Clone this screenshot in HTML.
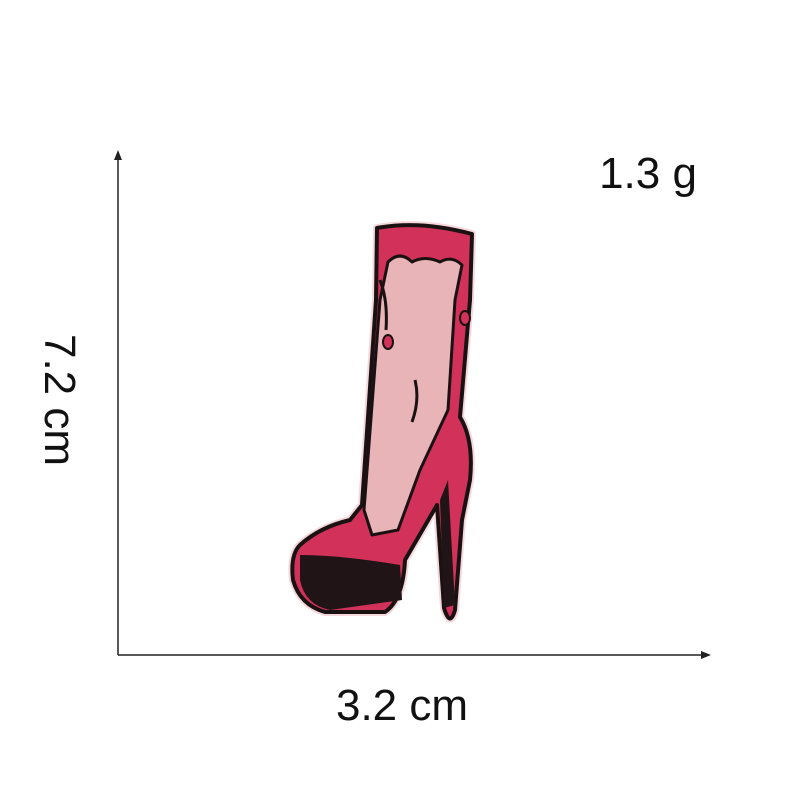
<!DOCTYPE html>
<html><head><meta charset="utf-8"><style>
html,body{margin:0;padding:0;background:#fff;width:800px;height:800px;overflow:hidden}
text{font-family:"Liberation Sans","DejaVu Sans",sans-serif;fill:#111}
</style></head><body>
<svg width="800" height="800" viewBox="0 0 800 800">
<g>
<line x1="118" y1="158" x2="118" y2="655" stroke="#222" stroke-width="1.5"/>
<polygon points="118,150 114,160 122,160" fill="#222"/>
</g>
<g>
<line x1="118" y1="655" x2="703" y2="655" stroke="#222" stroke-width="1.5"/>
<polygon points="711,655 701,651 701,659" fill="#222"/>
</g>
<text x="648" y="188" font-size="44" text-anchor="middle">1.3 g</text>
<text x="402" y="720" font-size="44" text-anchor="middle">3.2 cm</text>
<text x="0" y="0" font-size="44" text-anchor="middle" transform="translate(45,400) rotate(90)">7.2 cm</text>
<g stroke-linejoin="round">
<path d="M377,228 Q420,220 472,234 L470,300 L460,417 Q474,440 470,480 L462,520 L455,610 Q450,628 444,608 L437,505 L405,560 Q403,600 385,612 L325,612 Q300,605 293,580 Q290,555 300,545 Q320,527 350,520 L362,505 L376,300 Z" fill="#f6d8dc" stroke="#f6d8dc" stroke-width="8"/>
<path d="M377,228 Q420,220 472,234 L470,300 L460,417 Q474,440 470,480 L462,520 L455,610 Q450,628 444,608 L437,505 L405,560 Q403,600 385,612 L325,612 Q300,605 293,580 Q290,555 300,545 Q320,527 350,520 L362,505 L376,300 Z" fill="#d2325a" stroke="#1a1212" stroke-width="4"/>
<path d="M388,262 Q400,250 412,262 Q425,255 440,262 Q452,255 462,265 L455,300 L448,410 L420,470 L398,530 L372,535 L364,510 L380,300 Z" fill="#e8b4b8" stroke="#1a1212" stroke-width="3"/>
<path d="M300,555 Q340,555 400,565 L402,600 L330,610 Q305,605 300,580 Z" fill="#201416"/>
<path d="M448,480 L455,605 L444,608 L440,500 Z" fill="#201416"/>
<path d="M380,280 Q388,300 386,330" fill="none" stroke="#1a1212" stroke-width="3"/>
<ellipse cx="388" cy="342" rx="5" ry="7" fill="#d2325a" stroke="#1a1212" stroke-width="2"/>
<ellipse cx="465" cy="318" rx="5" ry="7" fill="#d2325a" stroke="#1a1212" stroke-width="2"/>
<path d="M415,380 Q420,400 412,422" fill="none" stroke="#1a1212" stroke-width="3"/>
</g>
</svg>
</body></html>
